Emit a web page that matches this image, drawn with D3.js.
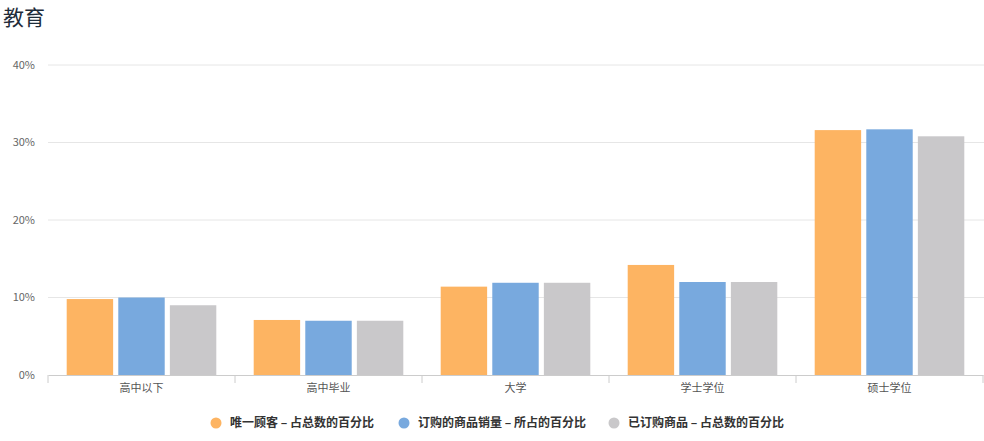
<!DOCTYPE html>
<html>
<head>
<meta charset="utf-8">
<script src="https://cdn.jsdelivr.net/npm/d3@7"></script>
<style>
  body { margin: 0; background: #fff; }
  text { font-family: "Noto Sans CJK SC", "Microsoft YaHei", sans-serif; }
</style>
</head>
<body>
<div id="chart"></div>
<script>
// Education breakdown
const categories = ["高中以下", "高中毕业", "大学", "学士学位", "硕士学位"];
const seriesNames = ["唯一顾客 – 占总数的百分比", "订购的商品销量 – 所占的百分比", "已订购商品 – 占总数的百分比"];
const uniqueCustomers = [9.8, 7.1, 11.4, 14.2, 31.6];
const unitsSold = [10.0, 7.0, 11.9, 12.0, 31.7];
const itemsOrdered = [9.0, 7.0, 11.9, 12.0, 30.8];
const yTicks = [0, 10, 20, 30, 40];
const colors = ["#FDB462", "#78A9DE", "#C9C8CA"];

const seriesValues = [uniqueCustomers, unitsSold, itemsOrdered];

const width = 984;
const height = 441;
const margin = { top: 65, right: 1, bottom: 66, left: 48 };

const svg = d3.select("#chart")
    .append("svg")
    .attr("width", width)
    .attr("height", height);

// title
svg.append("text")
    .attr("x", 3)
    .attr("y", 25)
    .text("教育")
    .style("font-size", "21px")
    .style("fill", "#1f2d3a");

const x0 = d3.scaleBand()
    .domain(categories)
    .range([margin.left, width - margin.right]);

const inset = x0.bandwidth() * 0.1;
const x1 = d3.scaleBand()
    .domain(d3.range(seriesNames.length))
    .range([inset, x0.bandwidth() - inset])
    .paddingInner(0.1);

const y = d3.scaleLinear()
    .domain([0, 40])
    .range([height - margin.bottom, margin.top]);

// grid lines
svg.selectAll(".grid")
    .data(yTicks.filter(d => d > 0))
    .enter().append("line")
    .attr("x1", margin.left)
    .attr("x2", width)
    .attr("y1", d => y(d))
    .attr("y2", d => y(d))
    .style("stroke", "#e6e6e6");

// y labels
svg.selectAll(".ylabel")
    .data(yTicks)
    .enter().append("text")
    .attr("x", 35)
    .attr("y", d => y(d))
    .attr("dy", "0.35em")
    .attr("text-anchor", "end")
    .text(d => d + "%")
    .style("font-size", "11px")
    .style("fill", "#666");

// bars
const groups = svg.selectAll(".group")
    .data(categories)
    .enter().append("g")
    .attr("transform", d => `translate(${x0(d)},0)`);

groups.selectAll("rect")
    .data((d, i) => seriesValues.map((s, k) => ({ k: k, v: s[i] })))
    .enter().append("rect")
    .attr("x", d => x1(d.k))
    .attr("width", x1.bandwidth())
    .attr("y", d => y(d.v))
    .attr("height", d => y(0) - y(d.v))
    .style("fill", d => colors[d.k]);

// x axis
const axis = svg.append("g")
    .attr("transform", `translate(0,${y(0)})`)
    .call(d3.axisBottom(x0).tickSize(0).tickPadding(9));
axis.select(".domain").attr("stroke", "#ccc");
axis.selectAll("text")
    .style("font-size", "11px")
    .style("fill", "#555")
    .style("font-family", '"Noto Sans CJK SC", sans-serif');

// boundary ticks
const bounds = categories.map(c => x0(c)).concat([x0.range()[1]]);
svg.selectAll(".btick")
    .data(bounds)
    .enter().append("line")
    .attr("x1", d => d)
    .attr("x2", d => d)
    .attr("y1", y(0))
    .attr("y2", y(0) + 8)
    .style("stroke", "#ccc");

// legend
const legendX = [216, 404, 614];
const legend = svg.selectAll(".legend")
    .data(seriesNames)
    .enter().append("g")
    .attr("transform", (d, i) => `translate(${legendX[i]},423)`);

legend.append("circle")
    .attr("r", 5.5)
    .style("fill", (d, i) => colors[i]);

legend.append("text")
    .attr("x", 14)
    .attr("dy", "0.35em")
    .text(d => d)
    .style("font-size", "12px")
    .style("font-weight", "bold")
    .style("fill", "#333");
</script>
</body>
</html>
